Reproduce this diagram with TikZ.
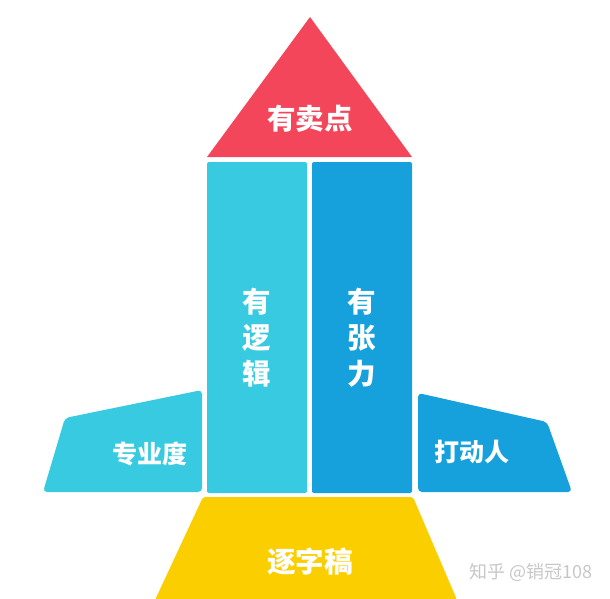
\documentclass[tikz,border=0pt]{standalone}
\usepackage{fontspec}
\newfontfamily\cjk{Noto Sans CJK SC}
\definecolor{rocketred}{RGB}{243,70,90}
\definecolor{rocketcyan}{RGB}{56,202,224}
\definecolor{rocketblue}{RGB}{22,160,220}
\definecolor{rocketyellow}{RGB}{251,206,0}
\begin{document}
\begin{tikzpicture}[x=1pt, y=-1pt,
  label/.style={text=white, font=\cjk\bfseries\fontsize{28.5}{36}\selectfont, align=center, inner sep=0pt},
  wing/.style={text=white, font=\cjk\bfseries\fontsize{25}{30}\selectfont, inner sep=0pt}]
\useasboundingbox (0,0) rectangle (610,598);
% nose, body, fins, exhaust
\fill[rocketred] (207,157) -- (310,17) -- (412,157) -- cycle;
\fill[rocketcyan,rounded corners=2pt] (207,162) rectangle (307,493);
\fill[rocketblue,rounded corners=2pt] (312,162) rectangle (412,493);
\fill[rocketcyan,rounded corners=4pt] (43,492) -- (65,418) -- (202,390) -- (202,492) -- cycle;
\fill[rocketblue,rounded corners=4pt] (418,492) -- (418,393) -- (547,422) -- (572,492) -- cycle;
\fill[rocketyellow,rounded corners=2pt] (155,600) -- (203,497) -- (413,497) -- (457,600) -- cycle;
% texts
\node[label] (nose) at (310,119) {有卖点};
\node[label] (logic) at (257,338) {有\\逻\\辑};
\node[label] (tension) at (362,338) {有\\张\\力};
\node[wing] (pro) at (150,454) {专业度};
\node[wing] (touch) at (472,452) {打动人};
\node[label] (script) at (310,562) {逐字稿};
\node[text=black!22, font=\cjk\fontsize{18}{20}\selectfont, inner sep=0pt] (mark) at (531,572) {知乎 @销冠108};
\end{tikzpicture}
\end{document}
